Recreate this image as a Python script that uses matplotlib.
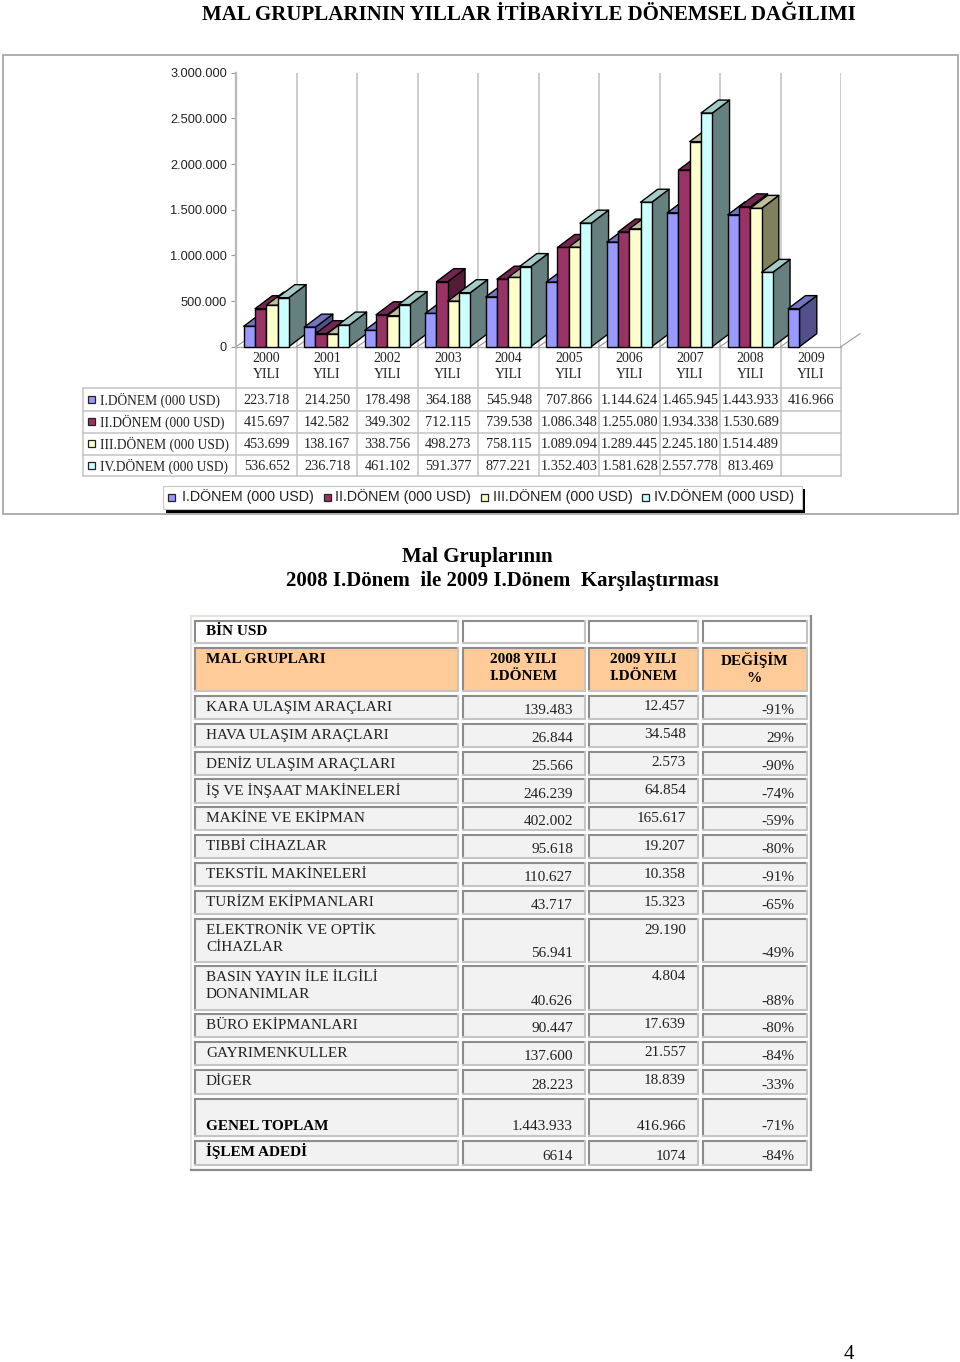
# -*- coding: utf-8 -*-
import numpy as np
import matplotlib
matplotlib.use('Agg')
import matplotlib.pyplot as plt
from matplotlib.patches import Polygon, Rectangle

plt.rcParams['font.family'] = ['Liberation Serif', 'DejaVu Serif']

# chart data
years = ['2000', '2001', '2002', '2003', '2004', '2005', '2006', '2007', '2008', '2009']
donem1 = [223718, 214250, 178498, 364188, 545948, 707866, 1144624, 1465945, 1443933, 416966]
donem2 = [415697, 142582, 349302, 712115, 739538, 1086348, 1255080, 1934338, 1530689, np.nan]
donem3 = [453699, 138167, 338756, 498273, 758115, 1089094, 1289445, 2245180, 1514489, np.nan]
donem4 = [536652, 236718, 461102, 591377, 877221, 1352403, 1581628, 2557778, 813469, np.nan]
series_names = ['I.DÖNEM (000 USD)', 'II.DÖNEM (000 USD)', 'III.DÖNEM (000 USD)', 'IV.DÖNEM (000 USD)']
yticks = [0, 500000, 1000000, 1500000, 2000000, 2500000, 3000000]
ytick_labels = ['0', '500.000', '1.000.000', '1.500.000', '2.000.000', '2.500.000', '3.000.000']

# lower table
mal_gruplari = ['KARA ULAŞIM ARAÇLARI', 'HAVA ULAŞIM ARAÇLARI', 'DENİZ ULAŞIM ARAÇLARI',
                'İŞ VE İNŞAAT MAKİNELERİ', 'MAKİNE VE EKİPMAN', 'TIBBİ CİHAZLAR',
                'TEKSTİL MAKİNELERİ', 'TURİZM EKİPMANLARI', 'ELEKTRONİK VE OPTİK\nCİHAZLAR',
                'BASIN YAYIN İLE İLGİLİ\nDONANIMLAR', 'BÜRO EKİPMANLARI', 'GAYRIMENKULLER', 'DİGER']
yil_2008 = ['139.483', '26.844', '25.566', '246.239', '402.002', '95.618', '110.627',
            '43.717', '56.941', '40.626', '90.447', '137.600', '28.223']
yil_2009 = ['12.457', '34.548', '2.573', '64.854', '165.617', '19.207', '10.358',
            '15.323', '29.190', '4.804', '17.639', '21.557', '18.839']
degisim = ['-91%', '29%', '-90%', '-74%', '-59%', '-80%', '-91%',
           '-65%', '-49%', '-88%', '-80%', '-84%', '-33%']
genel_toplam = ['GENEL TOPLAM', '1.443.933', '416.966', '-71%']
islem_adedi = ['İŞLEM ADEDİ', '6614', '1074', '-84%']

# styles, one entry per series
front = ['#9999ff', '#993366', '#ffffcc', '#ccffff']
top = ['#7373bf', '#732650', '#bfbf99', '#a3ccc8']
side = ['#50508a', '#551c38', '#80805f', '#668080']

fig = plt.figure(figsize=(9.6, 13.62), dpi=100)

# page axes in pixels, for frames and tables
pg = fig.add_axes([0, 0, 1, 1], zorder=0)
pg.set_xlim(0, 960)
pg.set_ylim(1362, 0)
pg.axis('off')

GRID = '#c4c4c4'
SER = ['Liberation Serif', 'DejaVu Serif']
SAN = ['Liberation Sans', 'DejaVu Sans']

pg.text(528.5, 15.5, 'MAL GRUPLARININ YILLAR İTİBARİYLE DÖNEMSEL DAĞILIMI', fontsize=15.0,
        fontweight='bold', ha='center', va='center', family=SER)
pg.add_patch(Rectangle((2.5, 55), 955, 459, fc='white', ec='#a8a8a8', lw=1.3))

# chart
ax_l, ax_r, ax_t, ax_b = 236, 841, 72.7, 346.7
ax = fig.add_axes([ax_l / 960, 1 - ax_b / 1362, (ax_r - ax_l) / 960, (ax_b - ax_t) / 1362], zorder=1)
ax.patch.set_visible(False)
ax.set_xlim(0, 10)
ax.set_ylim(0, 3000000)
for s in ['top', 'right']:
    ax.spines[s].set_visible(False)
ax.spines['left'].set_color('#b8b8b8')
ax.spines['left'].set_linewidth(1.6)
ax.spines['bottom'].set_color('#a8a8a8')
ax.spines['bottom'].set_linewidth(0.9)
ax.set_yticks(yticks)
ax.set_yticklabels(ytick_labels, family=SAN, fontsize=9.2, color='#222222')
ax.tick_params(axis='y', length=3.8, width=0.8, color='#999999', pad=2.8)
ax.set_xticks(np.arange(10) + 0.5)
ax.set_xticklabels([y + '\nYILI' for y in years], family=SER, fontsize=10, color='#222222', linespacing=1.35)
ax.tick_params(axis='x', length=0, pad=3.5)
ax.set_xticks(np.arange(1, 11), minor=True)
ax.tick_params(axis='x', which='minor', length=0)
ax.grid(axis='x', which='minor', color=GRID, lw=1.2, zorder=0)
ax.set_axisbelow(True)

# 3d depth in data units
bw = 0.186
dx = 17.3 / 60.5
dy = 13.0 / 274.0 * 3000000
fdx = 19.0 / 60.5

# floor diagonals
for i in range(11):
    ax.plot([i, i + fdx], [0, dy], color='#999999', lw=0.8, clip_on=False, zorder=1)

values = [donem1, donem2, donem3, donem4]
for i in range(10):
    for j in range(4):
        h = values[j][i]
        if np.isnan(h):
            continue
        x0 = i + 0.5 + (j - 2) * bw
        x1 = x0 + bw
        zz = 3 + i * 4 + j
        ax.add_patch(Polygon([(x1, 0), (x1 + dx, dy), (x1 + dx, h + dy), (x1, h)], fc=side[j], ec='black',
                             lw=1.0, clip_on=False, zorder=zz, joinstyle='round'))
        ax.add_patch(Polygon([(x0, h), (x0 + dx, h + dy), (x1 + dx, h + dy), (x1, h)], fc=top[j], ec='black',
                             lw=1.0, clip_on=False, zorder=zz, joinstyle='round'))
        ax.bar(x0, h, width=bw, align='edge', color=front[j], edgecolor='black', lw=1.0, zorder=zz, clip_on=False)

# data table below the chart
row_lines = [388, 411, 433, 455, 476]
row_mid = [399.5, 421.5, 443.5, 465.5]
cols = [ax_l + 60.5 * i for i in range(11)]
pg.plot([83, 83], [388, 476], color=GRID, lw=1.1, zorder=1)
for c in cols:
    pg.plot([c, c], [ax_b, 476], color=GRID, lw=1.1, zorder=1)
for y in row_lines:
    pg.plot([83, ax_r], [y, y], color=GRID, lw=1.1, zorder=1)

for j, name in enumerate(series_names):
    pg.add_patch(Rectangle((87.5, row_mid[j] - 3.5), 7, 7, fc=front[j], ec='#222222', lw=0.9))
    pg.text(100, row_mid[j] + 0.8, name, fontsize=9.75, ha='left', va='center', family=SER, color='#222222')
    for i in range(10):
        v = values[j][i]
        if np.isnan(v):
            continue
        label = f'{int(v):,}'.replace(',', '.')
        pg.text(ax_l + 60.5 * (i + 0.5) + 0.5, row_mid[j] + 0.8, label, fontsize=10.3, ha='center', va='center',
                family=SER, color='#222222')

# legend
pg.add_patch(Rectangle((166, 489), 639, 24, fc='black', ec='none', zorder=2))
pg.add_patch(Rectangle((163, 485.5), 639, 23.5, fc='white', ec='#c8c8c8', lw=0.8, zorder=3))
leg_marker = [168, 324, 481, 642]
leg_text = [182, 335, 493, 654]
for j, name in enumerate(series_names):
    pg.add_patch(Rectangle((leg_marker[j], 493.5), 7, 7, fc=front[j], ec='#222222', lw=0.9, zorder=4))
    pg.text(leg_text[j], 496.5, name, fontsize=10.3, ha='left', va='center', family=SAN, color='#222222', zorder=4)

# heading of the lower table
pg.text(477, 557, 'Mal Gruplarının', fontsize=15, fontweight='bold', ha='center', va='center', family=SER)
pg.text(286, 581, '2008 I.Dönem  ile 2009 I.Dönem  Karşılaştırması', fontsize=15, fontweight='bold',
        ha='left', va='center', family=SER)


def bevel(x0, y0, x1, y1, tl, br, lw, fill=None):
    if fill:
        pg.add_patch(Rectangle((x0, y0), x1 - x0, y1 - y0, fc=fill, ec='none', zorder=1))
    pg.plot([x0, x0, x1], [y1, y0, y0], color=tl, lw=lw, zorder=2, solid_joinstyle='miter')
    pg.plot([x1, x1, x0], [y0, y1, y1], color=br, lw=lw, zorder=2, solid_joinstyle='miter')


bevel(190.5, 615.5, 810.5, 1169.5, '#e4e4e0', '#8c8c8c', 1.6)

tcols = [(195, 458), (463, 585), (589, 698), (703, 807)]
rows = [(696, 719), (724, 747), (752, 775), (779, 803), (807, 830), (835, 858), (863, 886), (891, 914),
        (919, 962), (966, 1010), (1014, 1037), (1042, 1065), (1070, 1094)]


def row_cells(y0, y1, fill):
    for c0, c1 in tcols:
        bevel(c0, y0, c1, y1, '#8c8c8c', '#c4c4c4', 1.5, fill)


row_cells(620.5, 643, 'white')
row_cells(648, 691, '#ffcc99')
pg.text(206, 631.5, 'BİN USD', fontsize=11, fontweight='bold', va='center', family=SER)
pg.text(206, 659.5, 'MAL GRUPLARI', fontsize=11, fontweight='bold', va='center', family=SER)
pg.text(523.5, 668, '2008 YILI\nI.DÖNEM', fontsize=11, fontweight='bold', ha='center', va='center',
        family=SER, multialignment='center', linespacing=1.4)
pg.text(643.5, 668, '2009 YILI\nI.DÖNEM', fontsize=11, fontweight='bold', ha='center', va='center',
        family=SER, multialignment='center', linespacing=1.4)
pg.text(754.5, 668, 'DEĞİŞİM\n%', fontsize=11, fontweight='bold', ha='center', va='center',
        family=SER, multialignment='center', linespacing=1.4)

for i, (y0, y1) in enumerate(rows):
    row_cells(y0, y1, '#f2f2f2')
    multi = y1 - y0 > 30
    pg.text(206, y0 + 11.5 if not multi else y0 + 20, mal_gruplari[i], fontsize=11, ha='left', va='center',
            family=SER, color='#222222', linespacing=1.35)
    low = y1 - 8.5
    pg.text(573, low, yil_2008[i], fontsize=11, ha='right', va='center', family=SER, color='#222222')
    pg.text(686, y0 + 11, yil_2009[i], fontsize=11, ha='right', va='center', family=SER, color='#222222')
    pg.text(794, low, degisim[i], fontsize=11, ha='right', va='center', family=SER, color='#222222')

row_cells(1099, 1136, '#f2f2f2')
row_cells(1141, 1165, '#f2f2f2')
pg.text(206, 1127, genel_toplam[0], fontsize=11, fontweight='bold', va='center', family=SER)
pg.text(206, 1151, islem_adedi[0], fontsize=11, fontweight='bold', va='center', family=SER)
for k, xr in enumerate([573, 686, 794]):
    pg.text(xr, 1127, genel_toplam[k + 1], fontsize=11, ha='right', va='center', family=SER, color='#222222')
    pg.text(xr, 1156, islem_adedi[k + 1], fontsize=11, ha='right', va='center', family=SER, color='#222222')

pg.text(849, 1354.5, '4', fontsize=15, ha='center', va='center', family=SER)

fig.savefig('out.png', dpi=100)
